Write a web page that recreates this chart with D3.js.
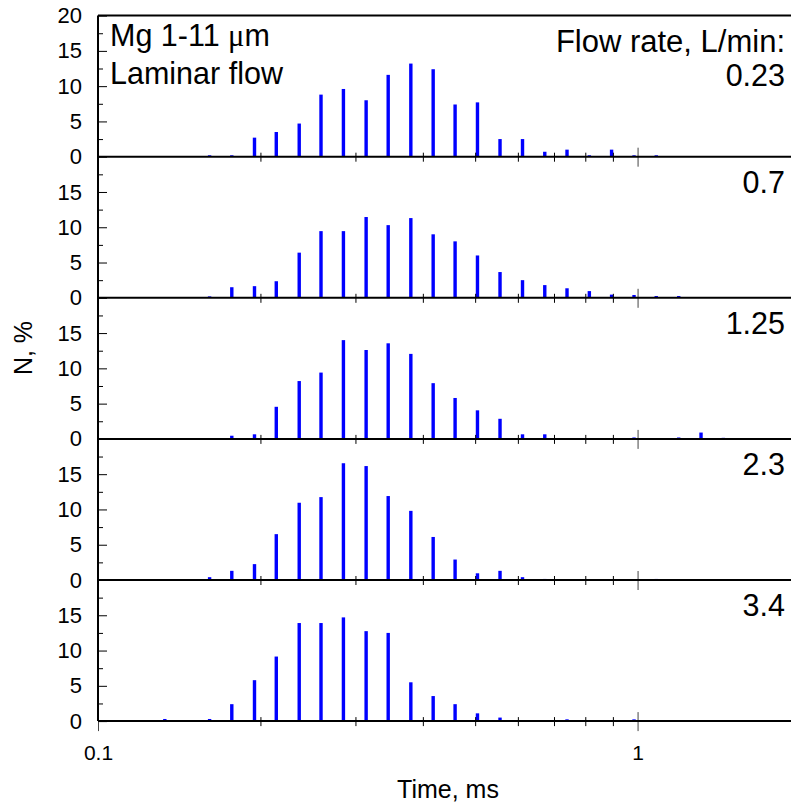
<!DOCTYPE html>
<html>
<head>
<meta charset="utf-8">
<script src="https://cdn.jsdelivr.net/npm/d3@7"></script>
<style>
    body { margin: 0; background: #fff; }
    svg { display: block; font-family: "Liberation Sans", Arial, sans-serif; }
</style>
</head>
<body>
<div class="main"></div>
<script>
// Time bins (ms), log spaced
const times = [0.133, 0.146, 0.161, 0.177, 0.195, 0.214, 0.236, 0.259, 0.285, 0.314,
    0.345, 0.380, 0.418, 0.459, 0.505, 0.556, 0.612, 0.673, 0.740, 0.814,
    0.895, 0.985, 1.083, 1.192, 1.311, 1.442];

// Flow rates, L/min (one panel each)
const flowRates = ["0.23", "0.7", "1.25", "2.3", "3.4"];

// N, % per bin
const n023 = [0, 0, 0.2, 0.2, 2.7, 3.5, 4.7, 8.8, 9.6, 8.0, 11.6, 13.2, 12.4, 7.4,
    7.7, 2.5, 2.5, 0.7, 1.0, 0.2, 1.0, 0.2, 0.2, 0, 0, 0];
const n07 = [0, 0, 0.2, 1.5, 1.65, 2.35, 6.4, 9.45, 9.45, 11.45, 10.3, 11.3, 9.0, 8.0,
    6.0, 3.65, 2.5, 1.8, 1.35, 0.95, 0.45, 0.4, 0.25, 0.25, 0, 0];
const n125 = [0, 0, 0, 0.45, 0.65, 4.55, 8.2, 9.4, 14.0, 12.6, 13.55, 12.05, 7.9, 5.8,
    4.05, 2.85, 0.65, 0.65, 0, 0, 0, 0.2, 0, 0.2, 0.9, 0.15];
const n23 = [0, 0, 0.4, 1.3, 2.25, 6.5, 10.95, 11.75, 16.55, 16.15, 11.9, 9.8, 6.1, 2.9,
    0.95, 1.3, 0.4, 0.15, 0, 0, 0, 0, 0.15, 0, 0, 0];
const n34 = [0.3, 0, 0.3, 2.4, 5.8, 9.15, 13.9, 13.9, 14.7, 12.75, 12.5, 5.5, 3.55, 2.4,
    1.1, 0.5, 0, 0, 0.25, 0, 0, 0.25, 0, 0, 0, 0];
const series = [n023, n07, n125, n23, n34];

const yTicks = [0, 5, 10, 15];
const yMinor = [2.5, 7.5, 12.5, 17.5];
const xMajor = [0.1, 1];
const xMinor = [0.2, 0.3, 0.4, 0.5, 0.6, 0.7, 0.8, 0.9, 2];

const w = 791;
const h = 806;
const padLeft = 98;
const padTop = 15.6;
const panelH = 141.1;

const svg = d3.select(".main").append("svg").attr("width", w).attr("height", h);

const xScale = d3.scaleLog().domain([0.1, 2]).range([padLeft, 800]);

series.forEach((vals, i) => {
    const base = padTop + panelH * (i + 1);
    const yScale = d3.scaleLinear().domain([0, 20]).range([base, base - panelH]);
    const g = svg.append("g");

    // bars
    g.selectAll("rect")
        .data(times.map((t, j) => ({ t: t, v: vals[j] })).filter((d) => d.v > 0))
        .enter()
        .append("rect")
        .attr("x", (d) => xScale(d.t) - 1.7)
        .attr("width", 3.4)
        .attr("y", (d) => yScale(d.v))
        .attr("height", (d) => yScale(0) - yScale(d.v))
        .attr("fill", "#0000ff");

    // y axis, ticks inward
    const yAxis = d3.axisLeft(yScale)
        .tickValues(i === 0 ? yTicks.concat([20]) : yTicks)
        .tickSize(-9)
        .tickPadding(16)
        .tickFormat(d3.format("d"));
    const ya = g.append("g").attr("transform", `translate(${padLeft},0)`).call(yAxis);
    ya.select(".domain").remove();
    ya.selectAll("text").attr("font-size", 22).attr("fill", "#000");
    ya.selectAll("line").attr("stroke", "#000");

    const yMin = g.append("g").attr("transform", `translate(${padLeft},0)`)
        .call(d3.axisLeft(yScale).tickValues(yMinor).tickSize(-5).tickFormat(""));
    yMin.select(".domain").remove();

    // x ticks crossing the baseline
    const xa = g.append("g").attr("transform", `translate(0,${base})`)
        .call(d3.axisBottom(xScale).tickValues(xMinor).tickSize(5).tickFormat(""));
    xa.select(".domain").remove();
    xa.selectAll("line").attr("y1", -4).attr("stroke", "#000");

    const xb = g.append("g").attr("transform", `translate(0,${base})`)
        .call(d3.axisBottom(xScale).tickValues(xMajor).tickSize(10).tickFormat(""));
    xb.select(".domain").remove();
    xb.selectAll("line").attr("y1", -9).attr("stroke", "#444");

    // baseline
    g.append("line")
        .attr("x1", padLeft).attr("x2", w)
        .attr("y1", base).attr("y2", base)
        .attr("stroke", "#000").attr("stroke-width", 2);

    // flow rate label
    g.append("text")
        .attr("x", 785)
        .attr("y", i === 0 ? 86 : base - panelH + 36)
        .attr("text-anchor", "end")
        .attr("font-size", 30.5)
        .text(flowRates[i]);
});

// frame: top border and left axis
svg.append("line")
    .attr("x1", padLeft).attr("x2", w).attr("y1", padTop).attr("y2", padTop)
    .attr("stroke", "#000").attr("stroke-width", 2);
svg.append("line")
    .attr("x1", padLeft).attr("x2", padLeft).attr("y1", padTop).attr("y2", padTop + panelH * 5)
    .attr("stroke", "#000").attr("stroke-width", 2);

// x tick labels under the bottom panel
const xLab = svg.append("g").attr("transform", `translate(0,${padTop + panelH * 5})`)
    .call(d3.axisBottom(xScale).tickValues(xMajor).tickSize(0).tickPadding(24)
        .tickFormat((d) => (d === 0.1 ? "0.1" : "1")));
xLab.select(".domain").remove();
xLab.selectAll("text").attr("font-size", 21).attr("fill", "#000");

// axis titles
svg.append("text")
    .attr("x", 448).attr("y", 798)
    .attr("text-anchor", "middle")
    .attr("font-size", 25)
    .text("Time, ms");

svg.append("text")
    .attr("transform", "translate(32,348) rotate(-90)")
    .attr("text-anchor", "middle")
    .attr("font-size", 25)
    .text("N, %");

// annotations
const note = svg.append("text").attr("x", 110).attr("font-size", 30.5);
const l1 = note.append("tspan").attr("x", 110).attr("y", 46);
l1.append("tspan").text("Mg 1-11 ");
l1.append("tspan").attr("font-family", "'Liberation Serif', serif").text("μ");
l1.append("tspan").text("m");
note.append("tspan").attr("x", 110).attr("y", 84).text("Laminar flow");

svg.append("text")
    .attr("x", 785).attr("y", 52)
    .attr("text-anchor", "end")
    .attr("font-size", 31)
    .text("Flow rate, L/min:");
</script>
</body>
</html>
